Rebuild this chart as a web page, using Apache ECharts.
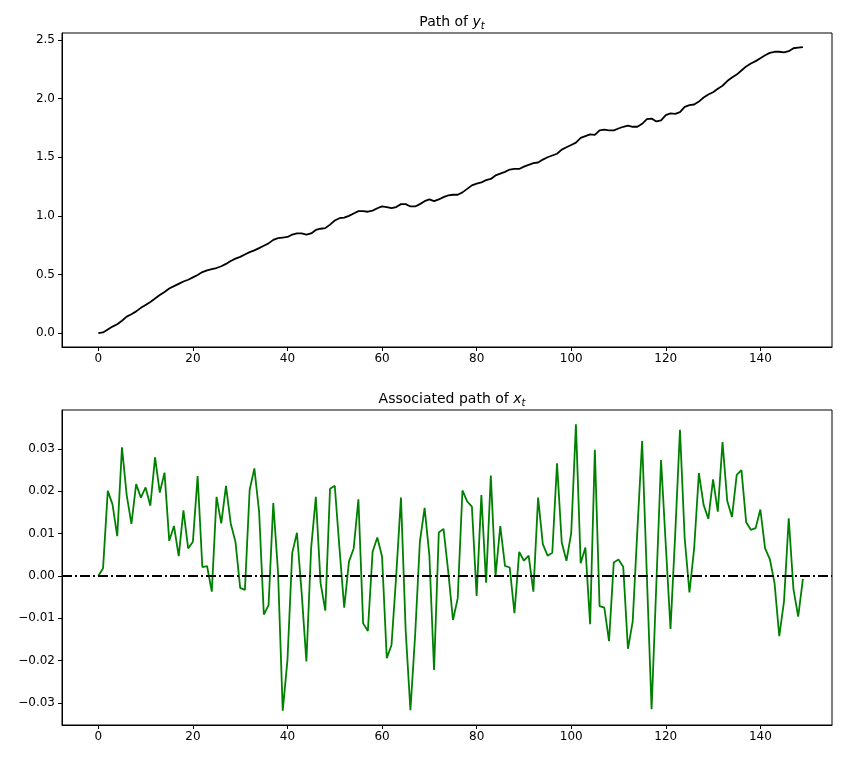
<!DOCTYPE html>
<html>
<head>
<meta charset="utf-8">
<script src="https://cdn.jsdelivr.net/npm/echarts@6/dist/echarts.min.js"></script>
<style>
  html, body { margin: 0; padding: 0; background: #fff; }
  #chart { width: 847px; height: 759px; }
</style>
</head>
<body>
<div id="chart"></div>
<script>
// time index 0..149
const periods = Array.from({ length: 150 }, (_, i) => i);

// path of y_t
const yPath = [
  0.000, 0.005, 0.030, 0.055, 0.075, 0.105, 0.140, 0.160, 0.185, 0.215,
  0.240, 0.265, 0.295, 0.325, 0.350, 0.380, 0.400, 0.420, 0.440, 0.455,
  0.475, 0.495, 0.520, 0.535, 0.545, 0.555, 0.570, 0.590, 0.615, 0.635,
  0.650, 0.670, 0.690, 0.705, 0.725, 0.745, 0.765, 0.795, 0.810, 0.815,
  0.820, 0.840, 0.850, 0.850, 0.840, 0.850, 0.880, 0.890, 0.895, 0.925,
  0.960, 0.980, 0.985, 1.000, 1.020, 1.040, 1.040, 1.035, 1.045, 1.065,
  1.080, 1.075, 1.065, 1.075, 1.100, 1.100, 1.080, 1.080, 1.100, 1.125,
  1.140, 1.125, 1.140, 1.160, 1.175, 1.180, 1.180, 1.200, 1.230, 1.260,
  1.275, 1.285, 1.305, 1.315, 1.345, 1.360, 1.375, 1.395, 1.400, 1.400,
  1.420, 1.435, 1.450, 1.455, 1.480, 1.500, 1.515, 1.530, 1.565, 1.585,
  1.605, 1.625, 1.665, 1.680, 1.695, 1.690, 1.730, 1.735, 1.730, 1.730,
  1.745, 1.760, 1.770, 1.760, 1.760, 1.785, 1.825, 1.830, 1.805, 1.815,
  1.860, 1.875, 1.870, 1.885, 1.930, 1.945, 1.950, 1.975, 2.010, 2.035,
  2.055, 2.085, 2.110, 2.150, 2.180, 2.205, 2.240, 2.275, 2.300, 2.320,
  2.345, 2.370, 2.390, 2.400, 2.400, 2.395, 2.405, 2.430, 2.435, 2.440
];

// associated path of x_t
const xPath = [
  0.0000, 0.0018, 0.0201, 0.0169, 0.0094, 0.0304, 0.0191, 0.0123, 0.0217, 0.0185,
  0.0209, 0.0166, 0.0280, 0.0197, 0.0244, 0.0083, 0.0118, 0.0047, 0.0155, 0.0065,
  0.0081, 0.0236, 0.0021, 0.0023, -0.0037, 0.0187, 0.0124, 0.0213, 0.0124, 0.0081,
  -0.0028, -0.0033, 0.0203, 0.0254, 0.0152, -0.0091, -0.0069, 0.0172, 0.0010, -0.0318,
  -0.0198, 0.0054, 0.0102, -0.0040, -0.0202, 0.0065, 0.0187, -0.0017, -0.0082, 0.0206,
  0.0213, 0.0065, -0.0075, 0.0034, 0.0065, 0.0181, -0.0112, -0.0130, 0.0057, 0.0091,
  0.0046, -0.0194, -0.0163, 0.0002, 0.0185, -0.0130, -0.0317, -0.0139, 0.0081, 0.0161,
  0.0050, -0.0222, 0.0103, 0.0111, 0.0010, -0.0104, -0.0053, 0.0202, 0.0176, 0.0164,
  -0.0047, 0.0191, -0.0016, 0.0237, 0.0000, 0.0118, 0.0024, 0.0020, -0.0088, 0.0057,
  0.0036, 0.0048, -0.0037, 0.0185, 0.0075, 0.0048, 0.0055, 0.0266, 0.0079, 0.0036,
  0.0101, 0.0358, 0.0030, 0.0067, -0.0114, 0.0298, -0.0071, -0.0075, -0.0154, 0.0032,
  0.0039, 0.0022, -0.0172, -0.0108, 0.0110, 0.0319, 0.0000, -0.0315, -0.0020, 0.0274,
  0.0073, -0.0125, 0.0100, 0.0345, 0.0089, -0.0039, 0.0065, 0.0243, 0.0168, 0.0135,
  0.0228, 0.0152, 0.0316, 0.0177, 0.0139, 0.0239, 0.0250, 0.0127, 0.0109, 0.0113,
  0.0157, 0.0065, 0.0040, -0.0017, -0.0142, -0.0060, 0.0136, -0.0031, -0.0096, -0.0007
];

const periodTicks = [0, 20, 40, 60, 80, 100, 120, 140];
const yTicks = [0, 0.5, 1.0, 1.5, 2.0, 2.5];
const xTicks = [-0.03, -0.02, -0.01, 0, 0.01, 0.02, 0.03];

const font = 'DejaVu Sans';
const chart = echarts.init(document.getElementById('chart'));

function periodAxis(gridIndex) {
  return {
    type: 'value',
    gridIndex: gridIndex,
    min: -7.68,
    max: 155.15,
    splitLine: { show: false },
    axisLine: { show: true, onZero: false, lineStyle: { color: '#000', width: 1 } },
    axisTick: { show: true, length: 4, lineStyle: { color: '#000' }, customValues: periodTicks },
    axisLabel: { color: '#000', fontFamily: font, fontSize: 12, margin: 6, customValues: periodTicks }
  };
}

function valueAxis(gridIndex, min, max, ticks, digits) {
  return {
    type: 'value',
    gridIndex: gridIndex,
    min: min,
    max: max,
    splitLine: { show: false },
    axisLine: { show: true, onZero: false, lineStyle: { color: '#000', width: 1 } },
    axisTick: { show: true, length: 4, lineStyle: { color: '#000' }, customValues: ticks },
    axisLabel: {
      color: '#000', fontFamily: font, fontSize: 12, margin: 7, customValues: ticks,
      formatter: function (v) {
        const s = Math.abs(v).toFixed(digits);
        return v < -1e-9 ? '\u2212' + s : s;
      }
    }
  };
}

const titleRich = {
  n: { fontFamily: font, fontWeight: 'normal', fontSize: 14, color: '#000' },
  v: { fontFamily: font, fontWeight: 'normal', fontStyle: 'italic', fontSize: 14, color: '#000' },
  s: { fontFamily: font, fontWeight: 'normal', fontStyle: 'italic', fontSize: 10, color: '#000', padding: [8, 0, 0, 0] }
};

chart.setOption({
  animation: false,
  backgroundColor: '#fff',
  title: [
    { text: '{n|Path of }{v|y}{s|t}', left: 447, top: 8, textAlign: 'center',
      textStyle: { fontWeight: 'normal', rich: titleRich } },
    { text: '{n|Associated path of }{v|x}{s|t}', left: 447, top: 385, textAlign: 'center',
      textStyle: { fontWeight: 'normal', rich: titleRich } }
  ],
  grid: [
    { left: 62, right: 15, top: 33, height: 314, show: true, borderColor: '#000', borderWidth: 1 },
    { left: 62, right: 15, top: 410, height: 315, show: true, borderColor: '#000', borderWidth: 1 }
  ],
  xAxis: [periodAxis(0), periodAxis(1)],
  yAxis: [
    valueAxis(0, -0.119, 2.56, yTicks, 1),
    valueAxis(1, -0.0352, 0.0392, xTicks, 2)
  ],
  series: [
    {
      name: 'y',
      type: 'line',
      xAxisIndex: 0,
      yAxisIndex: 0,
      showSymbol: false,
      lineStyle: { color: '#000', width: 1.8 },
      data: periods.map((t, i) => [t, yPath[i]])
    },
    {
      name: 'x',
      type: 'line',
      xAxisIndex: 1,
      yAxisIndex: 1,
      showSymbol: false,
      lineStyle: { color: '#008000', width: 1.8 },
      data: periods.map((t, i) => [t, xPath[i]]),
      markLine: {
        silent: true,
        symbol: 'none',
        label: { show: false },
        lineStyle: { color: '#000', width: 1.8, type: [10, 3, 2, 3] },
        data: [{ yAxis: 0 }]
      }
    }
  ]
});
</script>
</body>
</html>
